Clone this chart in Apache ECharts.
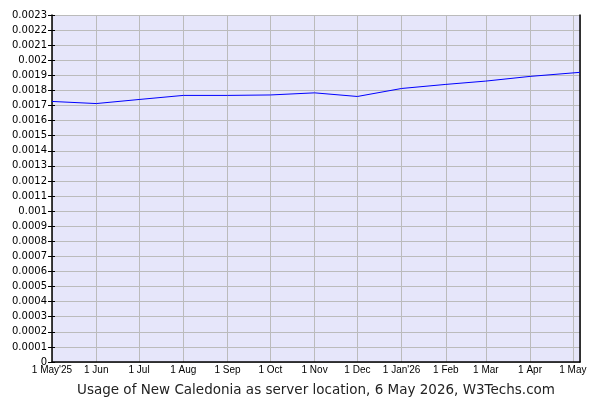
<!DOCTYPE html>
<html>
<head>
<meta charset="utf-8">
<script src="https://cdn.jsdelivr.net/npm/echarts@6/dist/echarts.min.js"></script>
<style>html,body{margin:0;padding:0;background:#fff}#c{width:600px;height:400px}</style>
</head>
<body>
<div id="c"></div>
<script>
const dates = ['2025-05-01','2025-06-01','2025-07-01','2025-08-01','2025-09-01','2025-10-01','2025-11-01','2025-12-01','2026-01-01','2026-02-01','2026-03-01','2026-04-01','2026-05-06'];
const values = [0.001727,0.001713,0.00174,0.001767,0.001767,0.00177,0.001784,0.00176,0.001813,0.00184,0.001862,0.001893,0.00192];
const monthNames = ['Jan','Feb','Mar','Apr','May','Jun','Jul','Aug','Sep','Oct','Nov','Dec'];
const titleText = 'Usage of New Caledonia as server location, 6 May 2026, W3Techs.com';

function toTime(s){const p=s.split('-').map(Number);return new Date(p[0],p[1]-1,p[2]).getTime();}
const data = dates.map((d,i)=>[toTime(d),values[i]]);
const xMin = toTime('2025-05-01'), xMax = toTime('2026-05-06');

const chart = echarts.init(document.getElementById('c'));
const yBase = {type:'value',min:0,max:0.0023,interval:0.0001};
chart.setOption({
  animation:false,
  title:{text:titleText,left:311,textAlign:'center',top:378,textStyle:{fontFamily:'DejaVu Sans',fontSize:13.5,fontWeight:'normal',color:'#222'}},
  grid:{left:52,right:20,top:15,bottom:38,show:true,backgroundColor:'#e6e6fa',borderWidth:0},
  xAxis:{type:'time',min:xMin,max:xMax,minInterval:28*86400000,maxInterval:31*86400000,
    axisLine:{lineStyle:{color:'#000',width:1.5}},axisTick:{show:false},
    splitLine:{show:true,lineStyle:{color:'#bbb',width:1}},
    axisLabel:{margin:3,fontFamily:'Liberation Sans',fontSize:10,color:'#000',showMaxLabel:false,hideOverlap:false,
      formatter:function(v){const d=new Date(v);const m=d.getMonth();let s='1 '+monthNames[m];if(m===0||v===xMin){s+="'"+String(d.getFullYear()).slice(2);}return s;}}},
  yAxis:[
    Object.assign({},yBase,{position:'left',axisLine:{show:true,lineStyle:{color:'#000',width:1.5}},
      axisTick:{show:true,length:4,lineStyle:{color:'#000'}},
      splitLine:{show:true,lineStyle:{color:'#bbb',width:1}},
      axisLabel:{margin:5,fontFamily:'DejaVu Sans',fontSize:10,color:'#000',formatter:function(v){return String(+v.toFixed(4));}}}),
    Object.assign({},yBase,{position:'left',axisLine:{show:false},axisTick:{show:true,inside:true,length:3,lineStyle:{color:'#000'}},splitLine:{show:false},axisLabel:{show:false}}),
    Object.assign({},yBase,{position:'right',axisLine:{show:true,lineStyle:{color:'#000',width:1.5}},axisTick:{show:false},splitLine:{show:false},axisLabel:{show:false}})
  ],
  series:[{type:'line',data:data,yAxisIndex:0,symbol:'none',lineStyle:{color:'#0000ff',width:1}}]
});
</script>
</body>
</html>
